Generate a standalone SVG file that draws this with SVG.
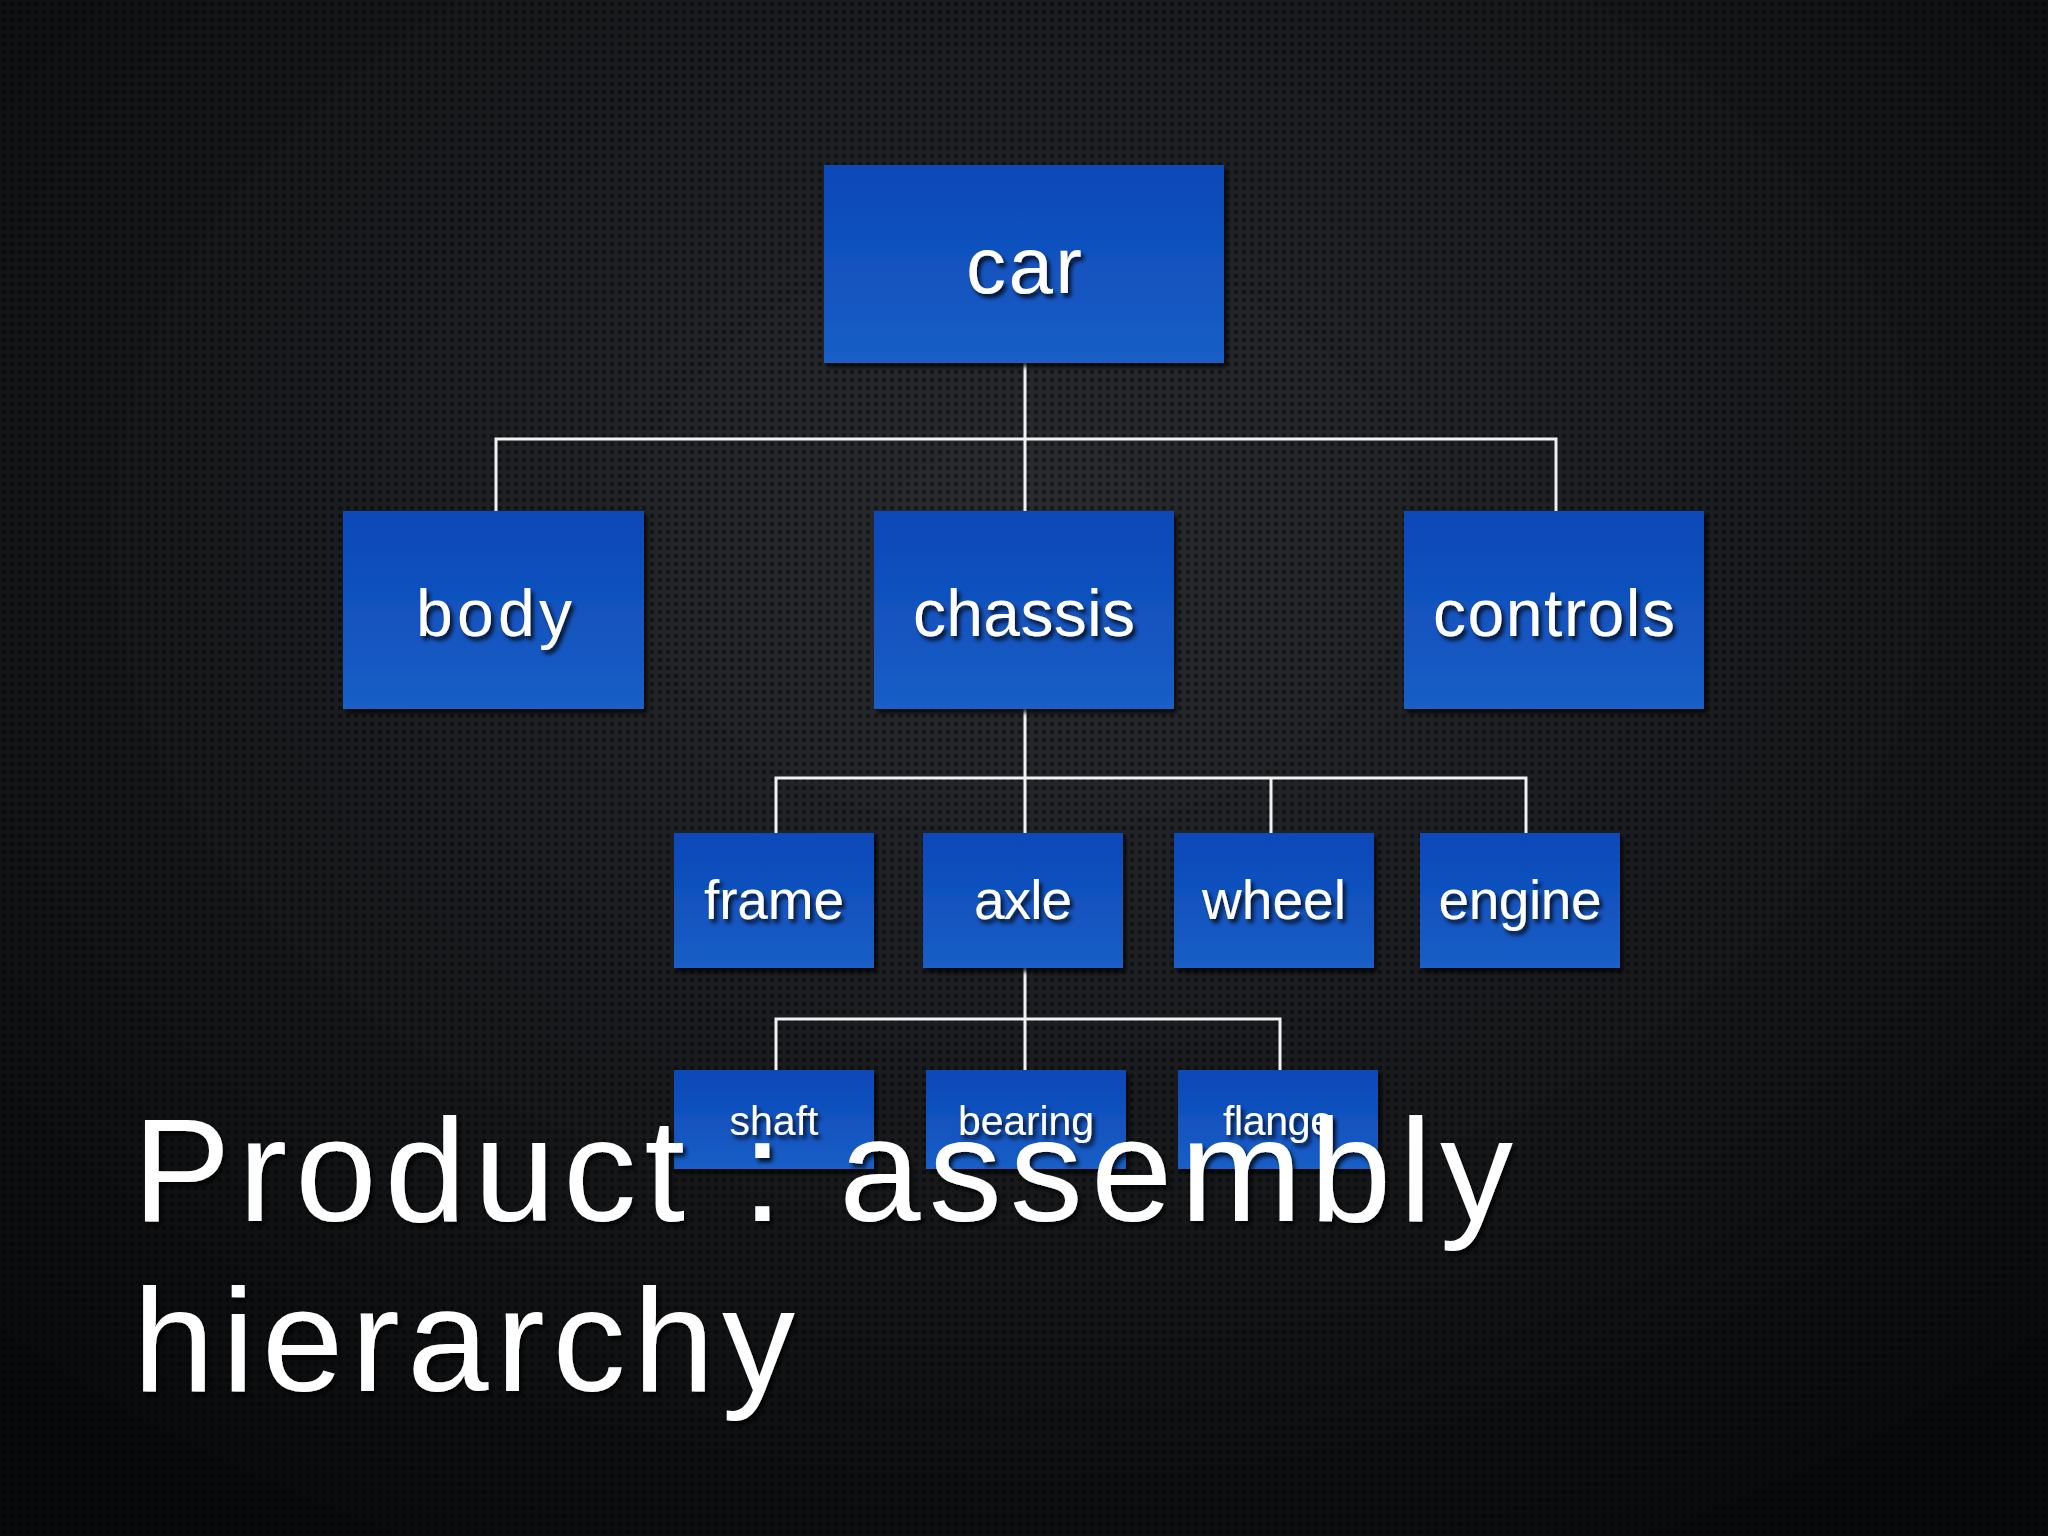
<svg xmlns="http://www.w3.org/2000/svg" width="2048" height="1536" viewBox="0 0 2048 1536">
<defs>
<radialGradient id="bg" cx="50%" cy="35%" r="75%">
<stop offset="0" stop-color="#2a2c30"/><stop offset="1" stop-color="#08090a"/>
</radialGradient>
<pattern id="dots" width="8" height="8" patternUnits="userSpaceOnUse">
<circle cx="4" cy="4" r="2.2" fill="#000" opacity="0.45"/>
</pattern>
<linearGradient id="box" x1="0" y1="0" x2="0" y2="1">
<stop offset="0" stop-color="#0a48b8"/><stop offset="1" stop-color="#1a5ec6"/>
</linearGradient>
<filter id="sh" x="-10%" y="-10%" width="130%" height="130%">
<feDropShadow dx="3" dy="4" stdDeviation="2" flood-color="#000" flood-opacity="0.8"/>
</filter>
</defs>
<style>
.b{fill:url(#box);filter:url(#sh)}
.t{font-family:"Liberation Sans",Arial,sans-serif;fill:#fff;text-anchor:middle;filter:url(#sh)}
.c{stroke:#f2f2f2;stroke-width:3;fill:none}
.ttl{font-family:"Liberation Sans",Arial,sans-serif;fill:#fff;font-size:146px;filter:url(#sh)}
</style>
<rect width="2048" height="1536" fill="url(#bg)"/>
<rect width="2048" height="1536" fill="url(#dots)"/>
<g id="connectors" class="c">
<path d="M1025 363V511M496 511V439H1556V511"/>
<path d="M1025 709V833M776 833V778H1526V833M1271 778V833"/>
<path d="M1025 968V1070M776 1070V1019H1280V1070"/>
</g>
<g id="car"><rect class="b" x="824" y="165" width="400" height="198"/><text class="t" x="1024" y="293" font-size="80" textLength="116" lengthAdjust="spacing">car</text></g>
<g id="body"><rect class="b" x="343" y="511" width="301" height="198"/><text class="t" x="494" y="636" font-size="66" textLength="156" lengthAdjust="spacing">body</text></g>
<g id="chassis"><rect class="b" x="874" y="511" width="300" height="198"/><text class="t" x="1024" y="636" font-size="66" textLength="222" lengthAdjust="spacing">chassis</text></g>
<g id="controls"><rect class="b" x="1404" y="511" width="300" height="198"/><text class="t" x="1554" y="636" font-size="66" textLength="242" lengthAdjust="spacing">controls</text></g>
<g id="frame"><rect class="b" x="674" y="833" width="200" height="135"/><text class="t" x="774" y="919" font-size="55" textLength="140" lengthAdjust="spacing">frame</text></g>
<g id="axle"><rect class="b" x="923" y="833" width="200" height="135"/><text class="t" x="1023" y="919" font-size="55" textLength="98" lengthAdjust="spacing">axle</text></g>
<g id="wheel"><rect class="b" x="1174" y="833" width="200" height="135"/><text class="t" x="1274" y="919" font-size="55" textLength="144" lengthAdjust="spacing">wheel</text></g>
<g id="engine"><rect class="b" x="1420" y="833" width="200" height="135"/><text class="t" x="1520" y="919" font-size="55" textLength="163" lengthAdjust="spacing">engine</text></g>
<g id="shaft"><rect class="b" x="674" y="1070" width="200" height="99"/><text class="t" x="774" y="1135" font-size="41" textLength="89" lengthAdjust="spacing">shaft</text></g>
<g id="bearing"><rect class="b" x="926" y="1070" width="200" height="99"/><text class="t" x="1026" y="1135" font-size="41" textLength="136" lengthAdjust="spacing">bearing</text></g>
<g id="flange"><rect class="b" x="1178" y="1070" width="200" height="99"/><text class="t" x="1278" y="1135" font-size="41" textLength="110" lengthAdjust="spacing">flange</text></g>
<g id="title"><text class="ttl" x="133" y="1221" textLength="1380" lengthAdjust="spacing">Product : assembly</text><text class="ttl" x="133" y="1391" textLength="662" lengthAdjust="spacing">hierarchy</text></g>
</svg>
